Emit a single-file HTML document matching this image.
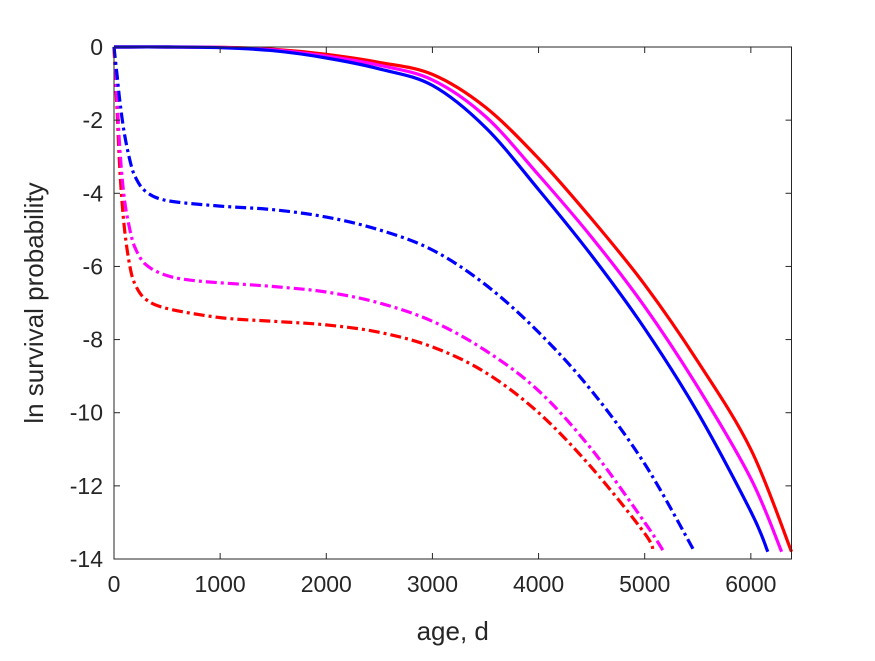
<!DOCTYPE html>
<html><head><meta charset="utf-8"><style>
body{margin:0;background:#fff}
text{font-family:"Liberation Sans",sans-serif;fill:#262626}
</style></head><body>
<svg id="chart" width="875" height="656" xmlns="http://www.w3.org/2000/svg">
<rect width="875" height="656" fill="#fff"/>
<g id="series"></g>
<g id="axes"></g>
</svg>
<script>
const xTicks=[0,1000,2000,3000,4000,5000,6000];
const yTicks=[0,-2,-4,-6,-8,-10,-12,-14];
const blueSolidX=[0,500,1000,1500,2000,2500,3000,3500,4000,4500,5000,5500,6000,6160];
const blueSolidY=[0,0,-0.02,-0.1,-0.3,-0.6,-1.05,-2.2,-3.9,-5.7,-7.7,-10.0,-12.7,-13.8];
const magSolidX=[0,500,1000,1500,2000,2500,3000,3500,4000,4500,5000,5500,6000,6290];
const magSolidY=[0,0,-0.01,-0.08,-0.25,-0.5,-0.9,-1.9,-3.5,-5.2,-7.1,-9.3,-11.8,-13.8];
const redSolidX=[0,500,1000,1500,2000,2500,3000,3500,4000,4500,5000,5500,6000,6383];
const redSolidY=[0,0,-0.01,-0.06,-0.2,-0.42,-0.75,-1.65,-3.05,-4.7,-6.5,-8.6,-11.0,-13.8];
const blueDashX=[0,30,60,100,150,200,300,500,1000,1500,2000,2500,3000,3500,4000,4500,5000,5470];
const blueDashY=[0,-0.8,-1.6,-2.4,-3.1,-3.55,-3.95,-4.2,-4.35,-4.45,-4.65,-5.0,-5.55,-6.5,-7.8,-9.4,-11.4,-13.8];
const magDashX=[0,30,60,100,150,200,300,500,800,1500,2000,2500,3000,3500,4000,4500,5000,5180];
const magDashY=[0,-1.5,-3,-4.2,-5.0,-5.5,-5.95,-6.25,-6.4,-6.55,-6.7,-7.0,-7.5,-8.3,-9.4,-11.0,-13.0,-13.8];
const redDashX=[0,30,60,100,150,200,300,500,1000,1500,2000,2500,3000,3500,4000,4500,5000,5080];
const redDashY=[0,-1.8,-3.6,-5.0,-6.0,-6.5,-6.9,-7.15,-7.4,-7.5,-7.6,-7.8,-8.2,-8.9,-10.0,-11.5,-13.3,-13.8];

const L=114,R=791.5,T=47,B=559,XMAX=6383;
const sx=v=>L+v/XMAX*(R-L);
const sy=v=>T+(-v)/14*(B-T);
const NS="http://www.w3.org/2000/svg";
const series=document.getElementById('series');
function smoothPath(pts){
  let d='M'+pts[0][0].toFixed(1)+','+pts[0][1].toFixed(1);
  for(let i=0;i<pts.length-1;i++){
    const p0=pts[Math.max(i-1,0)],p1=pts[i],p2=pts[i+1],p3=pts[Math.min(i+2,pts.length-1)];
    const c1=[p1[0]+(p2[0]-p0[0])/6,p1[1]+(p2[1]-p0[1])/6];
    const c2=[p2[0]-(p3[0]-p1[0])/6,p2[1]-(p3[1]-p1[1])/6];
    d+=' C'+c1[0].toFixed(1)+','+c1[1].toFixed(1)+' '+c2[0].toFixed(1)+','+c2[1].toFixed(1)+' '+p2[0].toFixed(1)+','+p2[1].toFixed(1);
  }
  return d;
}
function draw(xs,ys,color,dash,name){
  const p=document.createElementNS(NS,'path');
  p.setAttribute('d',smoothPath(xs.map((x,i)=>[sx(x),sy(ys[i])])));
  p.setAttribute('fill','none');p.setAttribute('stroke',color);p.setAttribute('stroke-width','3.2');
  p.setAttribute('stroke-linejoin','round');
  if(dash)p.setAttribute('stroke-dasharray','11 4 3 4');
  
  
  series.appendChild(p);
}
draw(redDashX,redDashY,'#ff0000',true,'red-dashdot-line');
draw(magDashX,magDashY,'#ff00ff',true,'magenta-dashdot-line');
draw(blueDashX,blueDashY,'#0000ff',true,'blue-dashdot-line');
draw(redSolidX,redSolidY,'#ff0000',false,'red-solid-line');
draw(magSolidX,magSolidY,'#ff00ff',false,'magenta-solid-line');
draw(blueSolidX,blueSolidY,'#0000ff',false,'blue-solid-line');

const axes=document.getElementById('axes');
let h='<rect x="'+L+'" y="'+T+'" width="'+(R-L)+'" height="'+(B-T)+'" fill="none" stroke="#262626" stroke-width="1"/>';
xTicks.forEach(t=>{const x=sx(t);
 h+='<line x1="'+x+'" x2="'+x+'" y1="'+B+'" y2="'+(B-6)+'" stroke="#262626"/><line x1="'+x+'" x2="'+x+'" y1="'+T+'" y2="'+(T+6)+'" stroke="#262626"/>';
 h+='<text x="'+x+'" y="'+(B+33)+'" font-size="23" text-anchor="middle">'+t+'</text>';});
yTicks.forEach(t=>{const y=sy(t);
 h+='<line x1="'+L+'" x2="'+(L+6)+'" y1="'+y+'" y2="'+y+'" stroke="#262626"/><line x1="'+R+'" x2="'+(R-6)+'" y1="'+y+'" y2="'+y+'" stroke="#262626"/>';
 h+='<text x="'+(L-11)+'" y="'+(y+8)+'" font-size="23" text-anchor="end">'+t+'</text>';});
h+='<text x="'+((L+R)/2)+'" y="640" font-size="26" text-anchor="middle">age, d</text>';
h+='<text transform="translate(43,303) rotate(-90)" font-size="26" text-anchor="middle">ln survival probability</text>';
axes.innerHTML=h;
</script>
</body></html>
